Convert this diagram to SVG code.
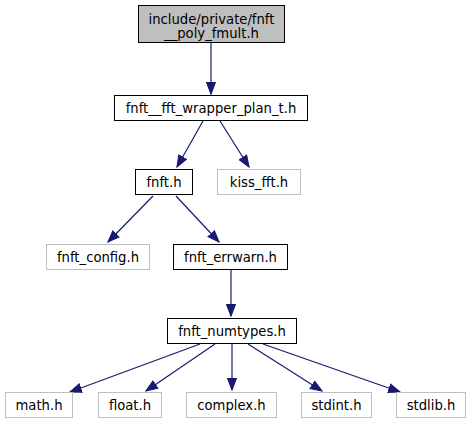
<svg xmlns="http://www.w3.org/2000/svg" width="472" height="425" viewBox="0 0 472 425">
<style>
.n rect{fill:#ffffff;stroke:#000000;stroke-width:1}
.g rect{fill:#ffffff;stroke:#bfbfbf;stroke-width:1}
.root rect{fill:#bfbfbf;stroke:#000000;stroke-width:1}
text{font-family:"DejaVu Sans","Liberation Sans",sans-serif;font-size:13.2px;fill:#000000;text-anchor:middle}
.e path{fill:none;stroke:#191970;stroke-width:1.2;marker-end:url(#ah)}
</style>
<defs>
<marker id="ah" markerUnits="userSpaceOnUse" markerWidth="13" markerHeight="11" viewBox="0 -5 12 10" refX="11" refY="0" orient="auto">
<path d="M0.5,-4 L11,0 L0.5,4 z" fill="#191970" stroke="#191970" stroke-width="1"/>
</marker>
</defs>
<g id="edges" class="e">
<path d="M211,43 L211,94"/>
<path d="M203,121 L177,167"/>
<path d="M220,121 L249,167"/>
<path d="M153,196 L108,242"/>
<path d="M176,196 L219,242"/>
<path d="M231,270 L231,316"/>
<path d="M200,344 L70,392"/>
<path d="M215,344 L146,391"/>
<path d="M232,344 L232,390"/>
<path d="M248,344 L322,391"/>
<path d="M263,344 L400,392"/>
</g>
<g id="node1" class="root"><rect x="138.5" y="5.5" width="146" height="37"/><text x="211.5" y="23.5">include/private/fnft</text><text x="211.5" y="37.5">__poly_fmult.h</text></g>
<g id="node2" class="n"><rect x="114.5" y="95.5" width="193" height="25"/><text x="211" y="112.5">fnft__fft_wrapper_plan_t.h</text></g>
<g id="node3" class="n"><rect x="135.5" y="169.5" width="57" height="25"/><text x="164" y="186.5">fnft.h</text></g>
<g id="node4" class="g"><rect x="217.5" y="169.5" width="83" height="25"/><text x="259" y="186.5">kiss_fft.h</text></g>
<g id="node5" class="g"><rect x="46.5" y="244.5" width="103" height="25"/><text x="98" y="261.5">fnft_config.h</text></g>
<g id="node6" class="n"><rect x="173.5" y="244.5" width="114" height="25"/><text x="230.5" y="261.5">fnft_errwarn.h</text></g>
<g id="node7" class="n"><rect x="167.5" y="318.5" width="129" height="25"/><text x="232" y="335.5">fnft_numtypes.h</text></g>
<g id="node8" class="g"><rect x="5.5" y="392.5" width="67" height="25"/><text x="39" y="409.5">math.h</text></g>
<g id="node9" class="g"><rect x="98.5" y="392.5" width="63" height="25"/><text x="130" y="409.5">float.h</text></g>
<g id="node10" class="g"><rect x="186.5" y="392.5" width="90" height="25"/><text x="231.5" y="409.5">complex.h</text></g>
<g id="node11" class="g"><rect x="301.5" y="392.5" width="70" height="25"/><text x="336.5" y="409.5">stdint.h</text></g>
<g id="node12" class="g"><rect x="396.5" y="392.5" width="69" height="25"/><text x="431" y="409.5">stdlib.h</text></g>
</svg>
